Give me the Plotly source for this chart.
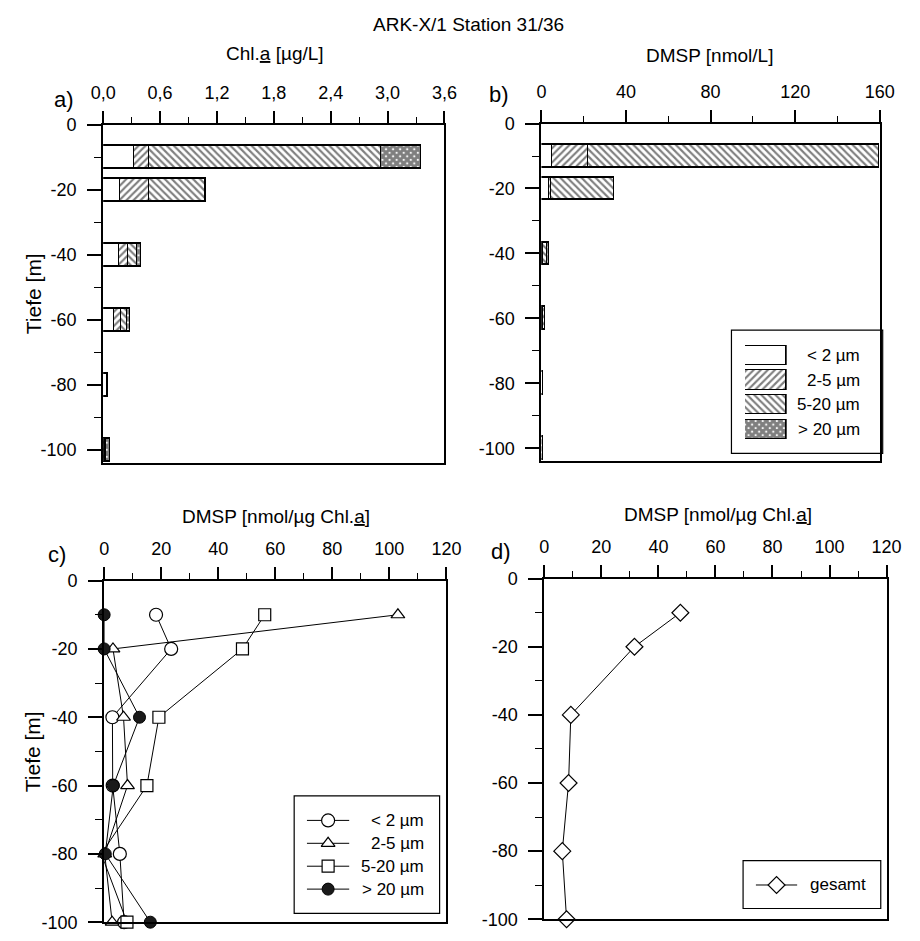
import plotly.graph_objects as go

# ---------------- data ----------------
depths = [-10, -20, -40, -60, -80, -100]
size_classes = ["< 2 µm", "2-5 µm", "5-20 µm", "> 20 µm"]

# Chl.a per size fraction [µg/L]
chl_lt2 = [0.33, 0.18, 0.17, 0.115, 0.04, 0.015]
chl_2_5 = [0.16, 0.31, 0.09, 0.07, 0.005, 0.01]
chl_5_20 = [2.44, 0.59, 0.10, 0.065, 0.005, 0.01]
chl_gt20 = [0.42, 0.01, 0.045, 0.03, 0.005, 0.035]

# particulate DMSP per size fraction [nmol/L]
dmsp_lt2 = [5.3, 4.0, 0.5, 0.35, 0.8, 0.1]
dmsp_2_5 = [16.9, 0.9, 0.6, 0.6, 0.0, 0.03]
dmsp_5_20 = [137.8, 29.5, 1.9, 1.0, 0.0, 0.08]
dmsp_gt20 = [0.0, 0.0, 0.6, 0.1, 0.0, 0.5]

# DMSP : Chl.a ratio per size fraction [nmol/µg]
ratio_lt2 = [18.2, 23.5, 2.9, 3.0, 5.5, 7.0]
ratio_2_5 = [103.0, 3.1, 6.8, 8.2, 0.2, 2.8]
ratio_5_20 = [56.3, 48.5, 19.2, 15.0, -1.0, 8.0]
ratio_gt20 = [0.0, 0.0, 12.4, 3.2, 0.4, 16.2]

# DMSP : Chl.a ratio, whole sample
ratio_total = [47.7, 31.6, 9.3, 8.5, 6.3, 7.8]
total_label = "gesamt"

# tick labels
chl_tickvals = [0.0, 0.6, 1.2, 1.8, 2.4, 3.0, 3.6]
chl_ticktext = ["0,0", "0,6", "1,2", "1,8", "2,4", "3,0", "3,6"]
dmsp_tickvals = [0, 40, 80, 120, 160]
ratio_tickvals = [0, 20, 40, 60, 80, 100, 120]
depth_tickvals = [0, -20, -40, -60, -80, -100]
depth_ticktext = ["0", "-20", "-40", "-60", "-80", "-100"]

# ---------------- styling ----------------
W, H = 920, 941
FONT = "Liberation Sans, Arial, sans-serif"
INK = "black"


def px_x(x):
    return x / W


def px_y(y):
    return 1 - y / H


def dom_x(a, b):
    return [px_x(a), px_x(b)]


def dom_y(top, bottom):
    return [px_y(bottom), px_y(top)]


patterns = [
    dict(shape="", fgcolor=INK, bgcolor="white"),
    dict(shape="/", size=5, solidity=0.42, fgcolor=INK, bgcolor="white"),
    dict(shape="\\", size=5, solidity=0.42, fgcolor=INK, bgcolor="white"),
    dict(shape="x", size=5, solidity=0.85, fgcolor=INK, bgcolor="white"),
]

fig = go.Figure()

# ---------------- a) / b) stacked bars ----------------
chl_series = [chl_lt2, chl_2_5, chl_5_20, chl_gt20]
dmsp_series = [dmsp_lt2, dmsp_2_5, dmsp_5_20, dmsp_gt20]

for axes, series in (("x", chl_series), ("x2", dmsp_series)):
    yref = "y" if axes == "x" else "y2"
    for k, vals in enumerate(series):
        fig.add_trace(go.Bar(
            x=vals, y=depths, orientation="h", width=7,
            xaxis=axes, yaxis=yref, name=size_classes[k], showlegend=False,
            marker=dict(color="white", pattern=patterns[k],
                        line=dict(color=INK, width=1.6)),
        ))

# ---------------- c) ratio per size fraction ----------------
ratio_series = [ratio_lt2, ratio_2_5, ratio_5_20, ratio_gt20]
marker_styles = [
    dict(symbol="circle", size=13, color="white", line=dict(color=INK, width=1.2)),
    dict(symbol="triangle-up", size=12, color="white", line=dict(color=INK, width=1.2)),
    dict(symbol="square", size=12, color="white", line=dict(color=INK, width=1.2)),
    dict(symbol="circle", size=12, color="#1a1a1a", line=dict(color=INK, width=1)),
]
for k, vals in enumerate(ratio_series):
    fig.add_trace(go.Scatter(
        x=vals, y=depths, mode="lines+markers", xaxis="x3", yaxis="y3",
        name=size_classes[k], showlegend=False, cliponaxis=False,
        line=dict(color=INK, width=1), marker=marker_styles[k],
    ))

# ---------------- d) ratio, whole sample ----------------
diamond = dict(symbol="diamond", size=13, color="white", line=dict(color=INK, width=1.2))
fig.add_trace(go.Scatter(
    x=ratio_total, y=depths, mode="lines+markers", xaxis="x4", yaxis="y4",
    name=total_label, showlegend=False, cliponaxis=False,
    line=dict(color=INK, width=1), marker=diamond,
))

# ---------------- legend keys (drawn on small helper axes) ----------------
# b) legend: patterned swatches
for k in range(len(size_classes)):
    fig.add_trace(go.Bar(
        x=[1], y=[k], orientation="h", width=0.78, base=0,
        xaxis="x5", yaxis="y5", showlegend=False, hoverinfo="skip",
        marker=dict(color="white", pattern=patterns[k],
                    line=dict(color=INK, width=1.6)),
    ))
# c) legend: line + marker samples
for k in range(len(size_classes)):
    fig.add_trace(go.Scatter(
        x=[0, 1], y=[k, k], mode="lines", xaxis="x6", yaxis="y6",
        showlegend=False, hoverinfo="skip", line=dict(color=INK, width=1),
    ))
    fig.add_trace(go.Scatter(
        x=[0.5], y=[k], mode="markers", xaxis="x6", yaxis="y6",
        showlegend=False, hoverinfo="skip", marker=marker_styles[k], cliponaxis=False,
    ))
# d) legend
fig.add_trace(go.Scatter(
    x=[0, 1], y=[0, 0], mode="lines", xaxis="x7", yaxis="y7",
    showlegend=False, hoverinfo="skip", line=dict(color=INK, width=1),
))
fig.add_trace(go.Scatter(
    x=[0.5], y=[0], mode="markers", xaxis="x7", yaxis="y7",
    showlegend=False, hoverinfo="skip", marker=diamond, cliponaxis=False,
))

# ---------------- axes ----------------
tick_font = dict(family=FONT, size=18, color=INK)


def xaxis_cfg(domain, anchor, rng, tickvals, ticktext=None, minor_dtick=None):
    cfg = dict(
        domain=domain, anchor=anchor, range=rng, side="top",
        showline=True, linecolor=INK, linewidth=2, mirror=True,
        ticks="outside", ticklen=12, tickwidth=1.5, tickcolor=INK,
        tickmode="array", tickvals=tickvals, tickfont=tick_font,
        ticklabelstandoff=4,
        showgrid=False, zeroline=False, fixedrange=True,
        minor=dict(ticks="outside", ticklen=6, tickwidth=1.2, tickcolor=INK,
                   dtick=minor_dtick, tick0=0, showgrid=False),
    )
    if ticktext is not None:
        cfg["ticktext"] = ticktext
    return cfg


def yaxis_cfg(domain, anchor, rng):
    return dict(
        domain=domain, anchor=anchor, range=rng,
        showline=True, linecolor=INK, linewidth=2, mirror=True,
        ticks="outside", ticklen=14, tickwidth=1.5, tickcolor=INK,
        tickmode="array", tickvals=depth_tickvals, ticktext=depth_ticktext,
        tickfont=tick_font, ticklabelstandoff=7,
        showgrid=False, zeroline=False, fixedrange=True,
        minor=dict(ticks="outside", ticklen=7, tickwidth=1.2, tickcolor=INK,
                   dtick=10, tick0=0, showgrid=False),
    )


hidden = dict(visible=False, fixedrange=True, showgrid=False, zeroline=False)

fig.update_layout(
    width=W, height=H, autosize=False,
    margin=dict(l=0, r=0, t=0, b=0),
    paper_bgcolor="white", plot_bgcolor="white",
    barmode="stack", bargap=0,
    font=dict(family=FONT, size=18, color=INK),
    xaxis=xaxis_cfg(dom_x(93, 445), "y", [0, 3.6], chl_tickvals, chl_ticktext, 0.3),
    yaxis=yaxis_cfg(dom_y(117, 463), "x", [-104, 0]),
    xaxis2=xaxis_cfg(dom_x(545, 894), "y2", [0, 160], dmsp_tickvals, None, 20),
    yaxis2=yaxis_cfg(dom_y(116, 461), "x2", [-104, 0]),
    xaxis3=xaxis_cfg(dom_x(94, 447), "y3", [0, 120], ratio_tickvals, None, 10),
    yaxis3=yaxis_cfg(dom_y(583, 932), "x3", [-100, 0]),
    xaxis4=xaxis_cfg(dom_x(548, 901), "y4", [0, 120], ratio_tickvals, None, 10),
    yaxis4=yaxis_cfg(dom_y(581, 929), "x4", [-100, 0]),
    # helper axes for legend keys
    xaxis5=dict(hidden, domain=dom_x(755, 798), anchor="y5", range=[0, 1]),
    yaxis5=dict(hidden, domain=dom_y(340.5, 441.5), anchor="x5", range=[3.5, -0.5]),
    xaxis6=dict(hidden, domain=dom_x(303, 347), anchor="y6", range=[0, 1]),
    yaxis6=dict(hidden, domain=dom_y(816.3, 909.9), anchor="x6", range=[3.5, -0.5]),
    xaxis7=dict(hidden, domain=dom_x(766, 809), anchor="y7", range=[0, 1]),
    yaxis7=dict(hidden, domain=dom_y(882, 906), anchor="x7", range=[0.5, -0.5]),
)

# legend frames
for x0, y0, x1, y1 in ((741, 327, 897, 453), (290, 803, 440, 923), (753, 869, 895, 918)):
    fig.add_shape(type="rect", xref="paper", yref="paper",
                  x0=px_x(x0), x1=px_x(x1), y0=px_y(y1), y1=px_y(y0),
                  line=dict(color=INK, width=1.2), fillcolor="rgba(0,0,0,0)", layer="above")

annotations = []


def text(x, y, s, size=18, xanchor="center", yanchor="middle", angle=0):
    annotations.append(dict(
        x=px_x(x), y=px_y(y), xref="paper", yref="paper", text=s, showarrow=False,
        xanchor=xanchor, yanchor=yanchor, textangle=angle,
        font=dict(family=FONT, size=size, color=INK),
    ))


text(470, 15, "ARK-X/1 Station 31/36", size=19)
text(270, 44, "Chl.<u>a</u> [µg/L]", size=19)
text(718, 46, "DMSP [nmol/L]", size=19)
text(271, 518, "DMSP [nmol/µg Chl.<u>a</u>]", size=19)
text(727, 515, "DMSP [nmol/µg Chl.<u>a</u>]", size=19)

text(53, 91, "a)", size=22)
text(501, 86, "b)", size=22)
text(45, 556, "c)", size=22)
text(503, 553, "d)", size=22)

text(21, 290, "Tiefe [m]", size=21, angle=-90)
text(21, 758, "Tiefe [m]", size=21, angle=-90)

for k, lab in enumerate(size_classes):
    text(876, 353 + 25.25 * k, lab, size=17, xanchor="right")
    text(426, 828 + 23.4 * k, lab, size=17, xanchor="right")
text(820, 894, total_label, size=17, xanchor="left")

fig.update_layout(annotations=annotations)

fig.write_html("out.html")
